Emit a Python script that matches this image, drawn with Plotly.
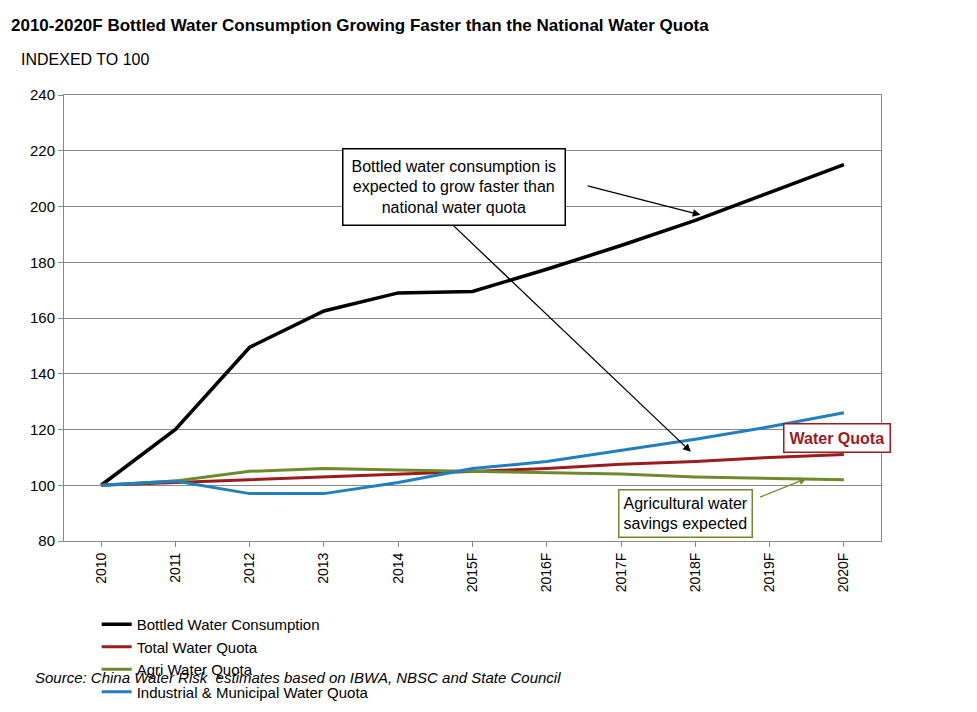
import plotly.graph_objects as go

years = ["2010", "2011", "2012", "2013", "2014", "2015F", "2016F", "2017F", "2018F", "2019F", "2020F"]
bottled = [100, 120, 149.5, 162.5, 169, 169.5, 177.5, 186, 195, 205, 215]
total_quota = [100, 101, 102, 103, 104, 105, 106, 107.5, 108.5, 110, 111]
agri_quota = [100, 101.5, 105, 106, 105.5, 105, 104.5, 104, 103, 102.5, 102]
industrial_quota = [100, 101.5, 97, 97, 101, 106, 108.5, 112.5, 116.5, 121, 126]

fig = go.Figure()
series = [
    ("Bottled Water Consumption", bottled, "black", 3.5),
    ("Total Water Quota", total_quota, "#9b1b1f", 3),
    ("Agri Water Quota", agri_quota, "#6f8a2b", 3),
    ("Industrial & Municipal Water Quota", industrial_quota, "#1f7fbf", 3),
]
for name, vals, col, w in series:
    fig.add_trace(go.Scatter(x=years, y=vals, name=name, mode="lines",
                             line=dict(color=col, width=w)))

# arrows from the text box
for (hx, hy, tx, ty) in [(8.07, 197, 6.53, 207.5), (7.94, 112, 4.67, 195)]:
    fig.add_annotation(x=hx, y=hy, ax=tx, ay=ty, xref="x", yref="y", axref="x", ayref="y",
                       text="", showarrow=True, arrowhead=2, arrowsize=1.2, arrowwidth=1.3,
                       arrowcolor="black")
fig.add_annotation(x=4.75, y=207, xref="x", yref="y", showarrow=False,
                   text="Bottled water consumption is<br>expected to grow faster than<br>national water quota",
                   font=dict(size=16, color="black"), bgcolor="white",
                   bordercolor="black", borderwidth=1.5, borderpad=8)

fig.add_annotation(x=9.5, y=102.5, ax=8.85, ay=95.5, xref="x", yref="y", axref="x", ayref="y",
                   text="", showarrow=True, arrowhead=2, arrowsize=1.2, arrowwidth=1.3,
                   arrowcolor="#6f8a2b")
fig.add_annotation(x=7.87, y=90, xref="x", yref="y", showarrow=False,
                   text="Agricultural water<br>savings expected",
                   font=dict(size=16, color="black"), bgcolor="white",
                   bordercolor="#6f8a2b", borderwidth=1.5, borderpad=4)

fig.add_annotation(x=1.012, y=0.197, xref="paper", yref="paper", showarrow=False,
                   text="<b>Water Quota</b>", font=dict(size=16, color="#9b1b1f"),
                   bgcolor="white", bordercolor="#9b1b1f", borderwidth=1.5, borderpad=5)

fig.add_annotation(x=0, y=1, xref="paper", yref="paper", xanchor="left", yanchor="top",
                   xshift=-55, yshift=81, showarrow=False,
                   text="<b>2010-2020F Bottled Water Consumption Growing Faster than the National Water Quota</b>",
                   font=dict(size=17, color="black"))
fig.add_annotation(x=0, y=1, xref="paper", yref="paper", xanchor="left", yanchor="top",
                   xshift=-45, yshift=46, showarrow=False,
                   text="INDEXED TO 100", font=dict(size=16, color="black"))
fig.add_annotation(x=0, y=0, xref="paper", yref="paper", xanchor="left", yanchor="middle",
                   xshift=-31, yshift=-136, showarrow=False,
                   text="<i>Source: China Water Risk  estimates based on IBWA, NBSC and State Council</i>",
                   font=dict(size=15, color="black"))

fig.update_layout(
    width=977, height=712,
    margin=dict(l=56, r=104, t=87, b=130),
    paper_bgcolor="white", plot_bgcolor="white",
    font=dict(family="Arial, Liberation Sans, sans-serif", size=14, color="black"),
    legend=dict(orientation="h", x=0.04, y=-0.15, xanchor="left", yanchor="top",
                entrywidth=385, entrywidthmode="pixels", font=dict(size=15),
                tracegroupgap=0),
    xaxis=dict(type="category", range=[-0.5, 10.5], tickangle=-90, showgrid=False,
               showline=True, linecolor="#888", mirror=True, ticks="outside",
               ticklen=5, tickcolor="#888", tickfont=dict(size=14)),
    yaxis=dict(range=[80, 240], dtick=20, showgrid=True, gridcolor="#888", gridwidth=1,
               showline=True, linecolor="#888", mirror=True, ticks="outside",
               ticklen=5, tickcolor="#888", tickfont=dict(size=15), zeroline=False),
)

fig.write_html("out.html")
